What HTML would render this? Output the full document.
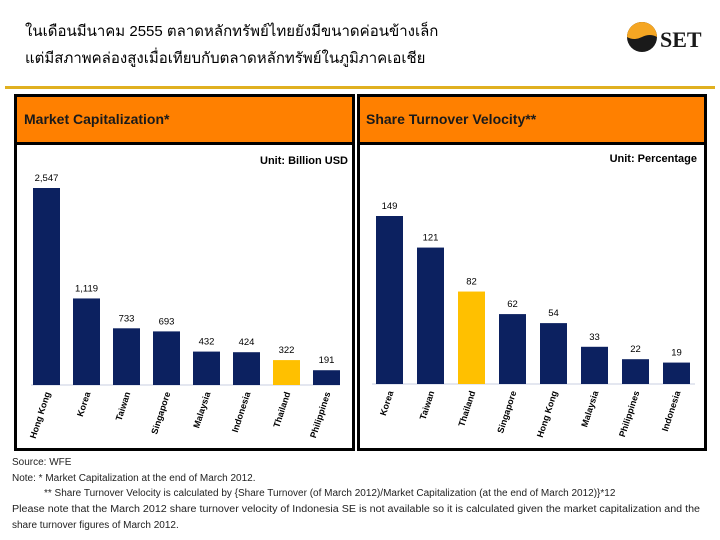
<!DOCTYPE html>
<html><head><meta charset="utf-8"><style>
body{margin:0;width:720px;height:540px;background:#fff;overflow:hidden;font-family:"Liberation Sans",sans-serif}
svg{position:absolute;left:0;top:0}
</style></head><body>
<svg width="720" height="540" xmlns="http://www.w3.org/2000/svg" id="s">
<text x="25" y="36" font-size="15" font-family="'Liberation Sans','DejaVu Sans',sans-serif">ในเดือนมีนาคม    2555 ตลาดหลักทรัพย์ไทยยังมีขนาดค่อนข้างเล็ก</text>
<text x="25" y="63" font-size="15" font-family="'Liberation Sans','DejaVu Sans',sans-serif">แต่มีสภาพคล่องสูงเมื่อเทียบกับตลาดหลักทรัพย์ในภูมิภาคเอเชีย</text>
<g>
<circle cx="642" cy="37" r="15" fill="#1a1a1a"/>
<path d="M627 37 A15 15 0 0 1 657 37 Q650 33 642 37 Q634 41 627 37Z" fill="#f5a623"/>
<text x="660" y="47" font-size="22" font-weight="bold" font-family="'Liberation Serif',serif" fill="#1a1a1a">SET</text>
</g>
<rect x="5" y="86" width="710" height="3" fill="#e0b020"/>
<g>
<rect x="15.5" y="95.5" width="338" height="354" fill="#fff" stroke="#000" stroke-width="3"/>
<rect x="17" y="97" width="335" height="45" fill="#ff8000"/>
<rect x="15" y="142" width="339" height="3" fill="#000"/>
<text x="24" y="124" font-size="14" font-weight="bold" fill="#1a1a1a">Market Capitalization*</text>
<text x="348" y="164" font-size="11" font-weight="bold" text-anchor="end">Unit: Billion USD</text>
<line x1="31" y1="385" x2="340" y2="385" stroke="#c8cfe0" stroke-width="1"/>
<g id="g1"></g>
</g>
<g>
<rect x="358.5" y="95.5" width="347" height="354" fill="#fff" stroke="#000" stroke-width="3"/>
<rect x="360" y="97" width="344" height="45" fill="#ff8000"/>
<rect x="358" y="142" width="348" height="3" fill="#000"/>
<text x="366" y="124" font-size="14" font-weight="bold" fill="#1a1a1a">Share Turnover Velocity**</text>
<text x="697" y="162" font-size="11" font-weight="bold" text-anchor="end">Unit: Percentage</text>
<line x1="372" y1="384" x2="695" y2="384" stroke="#c8cfe0" stroke-width="1"/>
<g id="g2"></g>
</g>
<g font-size="10" fill="#222">
<text x="12" y="465">Source: WFE</text>
<text x="12" y="481">Note: *  Market Capitalization at the end of March 2012.</text>
<text x="44" y="496">** Share Turnover Velocity is calculated by {Share Turnover (of March 2012)/Market Capitalization (at the end of March 2012)}*12</text>
<text x="12" y="512" textLength="688" lengthAdjust="spacingAndGlyphs">Please note that the March 2012 share turnover velocity of Indonesia SE is not available so it is calculated given the market capitalization and the</text>
<text x="12" y="528">share turnover figures of March 2012.</text>
</g>
</svg>
<script>
const capCategories=["Hong Kong","Korea","Taiwan","Singapore","Malaysia","Indonesia","Thailand","Philippines"];
const capValues=[2547,1119,733,693,432,424,322,191];
const capLabels=["2,547","1,119","733","693","432","424","322","191"];
const velCategories=["Korea","Taiwan","Thailand","Singapore","Hong Kong","Malaysia","Philippines","Indonesia"];
const velValues=[149,121,82,62,54,33,22,19];
const velLabels=["149","121","82","62","54","33","22","19"];
const NS="http://www.w3.org/2000/svg";
function draw(gid,cats,vals,labs,x0,step,bw,base,scale,prefix){
  const g=document.getElementById(gid);
  const y=v=>base-v*scale;
  cats.forEach((c,i)=>{
    const x=x0+i*step;
    const r=document.createElementNS(NS,"rect");
    
    
    r.setAttribute("x",x);r.setAttribute("width",bw);
    r.setAttribute("y",y(vals[i]));r.setAttribute("height",base-y(vals[i]));
    r.setAttribute("fill",c==="Thailand"?"#ffc000":"#0c2160");
    g.appendChild(r);
    const t=document.createElementNS(NS,"text");
    
    
    t.setAttribute("x",x+bw/2);t.setAttribute("y",y(vals[i])-7);
    t.setAttribute("font-size","9.5");t.setAttribute("text-anchor","middle");
    t.textContent=labs[i];g.appendChild(t);
    const l=document.createElementNS(NS,"text");
    
    
    const lx=x+bw/2+4, ly=base+8;
    l.setAttribute("x",lx);l.setAttribute("y",ly);
    l.setAttribute("font-size","9");l.setAttribute("font-weight","bold");l.setAttribute("text-anchor","end");
    l.setAttribute("transform","rotate(-72 "+lx+" "+ly+")");
    l.textContent=c;g.appendChild(l);
  });
}
draw("g1",capCategories,capValues,capLabels,33,40,27,385,197/2547,"cap");
draw("g2",velCategories,velValues,velLabels,376,41,27,384,168/149,"vel");
</script>
</body></html>
